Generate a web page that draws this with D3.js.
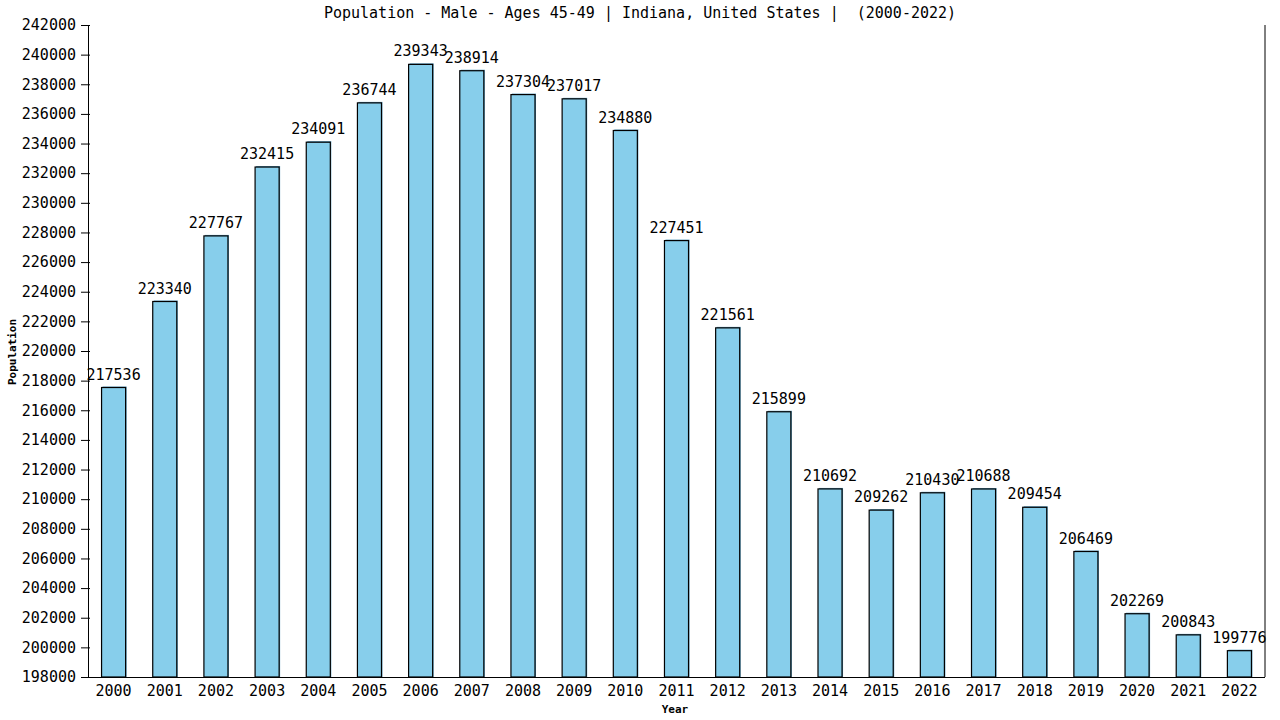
<!DOCTYPE html>
<html>
<head>
<meta charset="utf-8">
<script src="https://cdn.jsdelivr.net/npm/d3@7"></script>
<style>
  body { margin: 0; background: #fff; }
  svg text { font-family: "DejaVu Sans Mono", monospace; fill: #000; }
</style>
</head>
<body>
<div id="chart"></div>
<script>
// data
const years = ["2000", "2001", "2002", "2003", "2004", "2005", "2006", "2007", "2008", "2009", "2010", "2011",
  "2012", "2013", "2014", "2015", "2016", "2017", "2018", "2019", "2020", "2021", "2022"];
const population = [217536, 223340, 227767, 232415, 234091, 236744, 239343, 238914, 237304, 237017, 234880, 227451,
  221561, 215899, 210692, 209262, 210430, 210688, 209454, 206469, 202269, 200843, 199776];
const yTicks = d3.range(198000, 242001, 2000);

const width = 1280, height = 720;
const plotLeft = 88, plotRight = 1265, plotTop = 25, plotBottom = 677;

const svg = d3.select("#chart")
  .append("svg")
  .attr("width", width)
  .attr("height", height);

const x = d3.scaleBand()
  .domain(years)
  .range([plotLeft, plotRight])
  .paddingInner(0.53)
  .paddingOuter(0.265);

const y = d3.scaleLinear()
  .domain([198000, 242000])
  .range([plotBottom, plotTop]);

// title (keeps the double space before the year range)
svg.append("text")
  .attr("x", 640)
  .attr("y", 18)
  .attr("text-anchor", "middle")
  .style("font-size", "15px")
  .style("white-space", "pre")
  .text("Population - Male - Ages 45-49 | Indiana, United States |  (2000-2022)");

// bars: a thin darker shadow behind, then the main bar
const bars = svg.append("g");
bars.selectAll("rect.shadow")
  .data(years)
  .join("rect")
  .attr("class", "shadow")
  .attr("x", d => x(d) + 1)
  .attr("y", (d, i) => y(population[i]) - 1)
  .attr("width", x.bandwidth())
  .attr("height", (d, i) => plotBottom - y(population[i]) + 1)
  .attr("fill", "#5b9ec0");

bars.selectAll("rect.bar")
  .data(years)
  .join("rect")
  .attr("class", "bar")
  .attr("x", d => x(d))
  .attr("y", (d, i) => y(population[i]))
  .attr("width", x.bandwidth())
  .attr("height", (d, i) => plotBottom - y(population[i]))
  .attr("fill", "#87ceeb")
  .attr("stroke", "black")
  .attr("stroke-width", 1.2);

// value labels
svg.append("g")
  .selectAll("text")
  .data(years)
  .join("text")
  .attr("x", d => x(d) + x.bandwidth() / 2)
  .attr("y", (d, i) => y(population[i]) - 8)
  .attr("text-anchor", "middle")
  .style("font-size", "15px")
  .text((d, i) => population[i]);

// y axis
const yAxis = svg.append("g")
  .attr("transform", `translate(${plotLeft},0)`)
  .call(d3.axisLeft(y).tickValues(yTicks).tickSize(7).tickSizeOuter(0).tickPadding(5).tickFormat(d3.format("d")));
yAxis.selectAll(".tick line").attr("x1", 2);
yAxis.selectAll("text").style("font-size", "15px");

// x axis
const xAxis = svg.append("g")
  .attr("transform", `translate(0,${plotBottom})`)
  .call(d3.axisBottom(x).tickSize(0).tickSizeOuter(0).tickPadding(8));
xAxis.select(".domain").attr("d", `M${plotLeft},0.5H${plotRight}`);
xAxis.selectAll("text").style("font-size", "15px");

// right border
svg.append("line")
  .attr("x1", plotRight).attr("x2", plotRight)
  .attr("y1", plotTop).attr("y2", plotBottom)
  .attr("stroke", "black");

// axis titles
svg.append("text")
  .attr("x", 675)
  .attr("y", 713)
  .attr("text-anchor", "middle")
  .style("font-size", "11px")
  .style("font-weight", "bold")
  .text("Year");

svg.append("text")
  .attr("transform", "translate(16,352) rotate(-90)")
  .attr("text-anchor", "middle")
  .style("font-size", "11px")
  .style("font-weight", "bold")
  .text("Population");
</script>
</body>
</html>
